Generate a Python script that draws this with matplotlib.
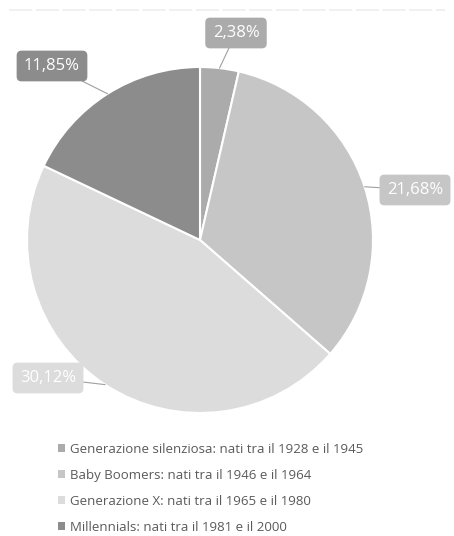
import matplotlib.pyplot as plt
import numpy as np

labels = ['Generazione silenziosa: nati tra il 1928 e il 1945',
          'Baby Boomers: nati tra il 1946 e il 1964',
          'Generazione X: nati tra il 1965 e il 1980',
          'Millennials: nati tra il 1981 e il 2000']
values = [2.38, 21.68, 30.12, 11.85]
colors = ['#ababab', '#c6c6c6', '#dcdcdc', '#8c8c8c']

# label box centres (figure pixels from top-left)
box_pos = [(236, 33), (415, 190), (48, 378), (52, 66)]

W, H = 454, 536
fig = plt.figure(figsize=(W / 100, H / 100), dpi=100)
plt.rcParams['font.family'] = ['Open Sans', 'DejaVu Sans']

ax = fig.add_axes([27 / W, 1 - 413 / H, 346 / W, 346 / H])
wedges, _ = ax.pie(values, colors=colors, startangle=90, counterclock=False,
                   wedgeprops=dict(edgecolor='white', linewidth=1.5))
ax.set_xlim(-1, 1)
ax.set_ylim(-1, 1)
ax.set_aspect('equal')

for w, v, c, (bx, by) in zip(wedges, values, colors, box_pos):
    ang = np.deg2rad((w.theta1 + w.theta2) / 2)
    px, py = np.cos(ang), np.sin(ang)
    txt = ('%.2f%%' % v).replace('.', ',')
    fx, fy = bx / W, 1 - by / H
    ax.annotate(txt, xy=(px, py), xycoords='data',
                xytext=(fx, fy), textcoords='figure fraction',
                ha='center', va='center', color='white', fontsize=12,
                bbox=dict(boxstyle='round,pad=0.4,rounding_size=0.25', fc=c, ec=c),
                arrowprops=dict(arrowstyle='-', color='#a0a0a0', lw=0.8,
                                shrinkA=0, shrinkB=0))

# faint line across the top
fig.add_artist(plt.Line2D([0.02, 0.98], [1 - 10 / H, 1 - 10 / H],
                          color='#ededed', lw=1.2, ls=(0, (14, 2)),
                          transform=fig.transFigure))

leg = fig.legend(wedges, labels, loc='upper left',
                 bbox_to_anchor=(46 / W, 1 - 431 / H), frameon=False,
                 fontsize=9.5, labelcolor='#5a5a5a', handlelength=0.55,
                 handleheight=0.55, handletextpad=0.35, labelspacing=0.98)
for h in leg.legend_handles:
    h.set_edgecolor('none')

fig.savefig('out.png', dpi=100, facecolor='white')
